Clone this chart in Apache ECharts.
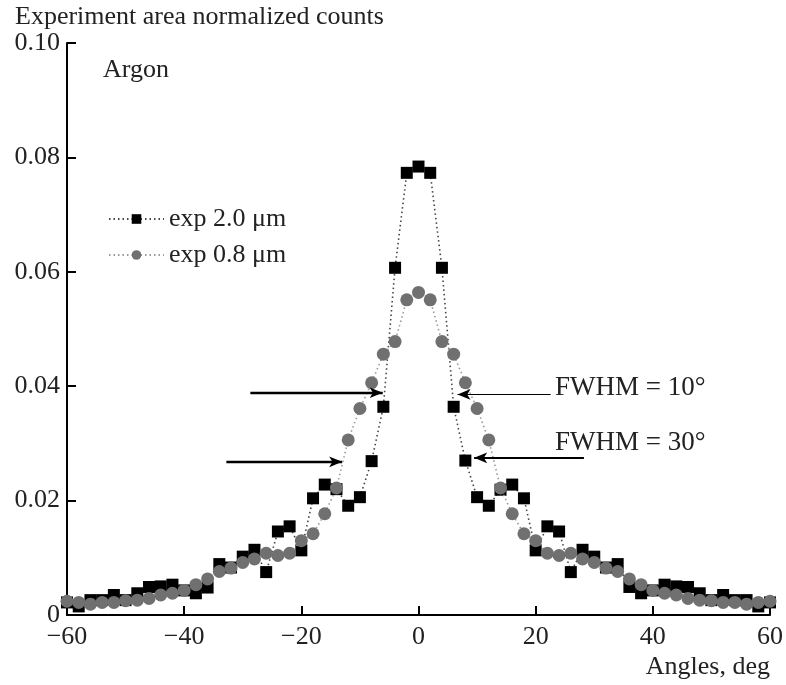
<!DOCTYPE html>
<html>
<head>
<meta charset="utf-8">
<script src="https://cdn.jsdelivr.net/npm/echarts@6/dist/echarts.min.js"></script>
<style>
html,body{margin:0;padding:0;background:#fff;}
#chart{width:786px;height:685px;}
</style>
</head>
<body>
<div id="chart"></div>
<script>
// Angles (deg)
var angles = [-60,-58,-56,-54,-52,-50,-48,-46,-44,-42,-40,-38,-36,-34,-32,-30,-28,-26,-24,-22,-20,-18,-16,-14,-12,-10,-8,-6,-4,-2,0,
  2,4,6,8,10,12,14,16,18,20,22,24,26,28,30,32,34,36,38,40,42,44,46,48,50,52,54,56,58,60];
// exp 2.0 um (squares)
var exp20 = [0.0022,0.0015,0.0026,0.0026,0.0035,0.0026,0.0038,0.0049,0.0050,0.0053,0.0043,0.0038,0.0048,0.0089,0.0083,0.0102,0.0114,0.0075,0.0146,0.0155,0.0113,0.0204,0.0228,0.0220,0.0191,0.0206,0.0269,0.0364,0.0607,0.0773,0.0784,
  0.0773,0.0607,0.0364,0.0270,0.0206,0.0191,0.0219,0.0228,0.0204,0.0113,0.0155,0.0146,0.0075,0.0114,0.0102,0.0083,0.0089,0.0049,0.0038,0.0043,0.0053,0.0050,0.0049,0.0038,0.0026,0.0035,0.0026,0.0026,0.0015,0.0022];
// exp 0.8 um (circles)
var exp08 = [0.0024,0.0022,0.0019,0.0022,0.0022,0.0025,0.0026,0.0029,0.0035,0.0038,0.0043,0.0053,0.0063,0.0076,0.0082,0.0092,0.0098,0.0108,0.0104,0.0108,0.0130,0.0142,0.0177,0.0222,0.0306,0.0361,0.0406,0.0456,0.0478,0.0551,0.0564,
  0.0551,0.0478,0.0456,0.0406,0.0361,0.0306,0.0222,0.0177,0.0142,0.0130,0.0108,0.0104,0.0108,0.0098,0.0092,0.0082,0.0076,0.0063,0.0053,0.0043,0.0038,0.0035,0.0029,0.0026,0.0025,0.0022,0.0022,0.0019,0.0022,0.0024];
// annotation arrows: [x start, x tip, y, width]
var arrowStartX = [-28.7, -32.8, 22.56, 28.24];
var arrowTipX   = [-6.11, -13.03, 6.66, 9.50];
var arrowY      = [0.03885, 0.02678, 0.03857, 0.02748];
var arrowWidth  = [2.3, 2.3, 1.2, 1.8];
var xTicks = {min:-60, max:60, interval:20};
var yTicks = {min:0, max:0.10, interval:0.02};

var FONT = '"Liberation Serif","DejaVu Serif",serif';
function pairs(ys){ return angles.map(function(a,i){ return [a, ys[i]]; }); }

var arrowData = arrowStartX.map(function(s,i){
  return [{coord:[s, arrowY[i]], lineStyle:{width:arrowWidth[i]}}, {coord:[arrowTipX[i], arrowY[i]]}];
});

var chart = echarts.init(document.getElementById('chart'));
chart.setOption({
  animation:false,
  backgroundColor:'#fff',
  grid:{left:67, right:15, top:43, bottom:70, containLabel:false},
  legend:{
    left:108, top:206, orient:'vertical', padding:0,
    itemWidth:55, itemHeight:12, itemGap:10,
    textStyle:{fontFamily:FONT, fontSize:26, color:'#222', lineHeight:26},
    data:['exp 2.0 μm','exp 0.8 μm']
  },
  xAxis:{
    type:'value', min:xTicks.min, max:xTicks.max, interval:xTicks.interval,
    axisLine:{onZero:false, lineStyle:{color:'#000', width:2}},
    axisTick:{inside:true, length:9, lineStyle:{color:'#000', width:2}},
    splitLine:{show:false},
    axisLabel:{fontFamily:FONT, fontSize:26, color:'#222', margin:9,
      formatter:function(v){ return v<0 ? '\u2212'+Math.abs(v) : String(v); }},
    name:'Angles, deg', nameLocation:'end',
    nameTextStyle:{fontFamily:FONT, fontSize:26, color:'#222', align:'right', verticalAlign:'top', padding:[39,0,0,0]},
    nameGap:0
  },
  yAxis:{
    type:'value', min:yTicks.min, max:yTicks.max, interval:yTicks.interval,
    axisLine:{show:true, onZero:false, lineStyle:{color:'#000', width:2}},
    axisTick:{show:true, inside:true, length:9, lineStyle:{color:'#000', width:2}},
    splitLine:{show:false},
    axisLabel:{fontFamily:FONT, fontSize:26, color:'#222', margin:7,
      formatter:function(v){ return v===0 ? '0' : v.toFixed(2); }}
  },
  graphic:[
    {type:'text', left:15, top:4, style:{text:'Experiment area normalized counts', font:'26px '+FONT, fill:'#222'}},
    {type:'text', left:103, top:57, style:{text:'Argon', font:'26px '+FONT, fill:'#222'}},
    {type:'text', left:555, top:374, style:{text:'FWHM = 10°', font:'27px '+FONT, fill:'#222'}},
    {type:'text', left:555, top:429, style:{text:'FWHM = 30°', font:'27px '+FONT, fill:'#222'}}
  ],
  series:[
    {
      name:'exp 2.0 μm', type:'line', data:pairs(exp20),
      symbol:'rect', symbolSize:12, showSymbol:true,
      itemStyle:{color:'#000'},
      lineStyle:{color:'#444', width:1.6, type:[1.5,3]},
      z:2,
      markLine:{
        silent:true, symbol:['none','arrow'], symbolSize:[8,13],
        label:{show:false},
        lineStyle:{color:'#000', type:'solid', width:2},
        data:arrowData
      }
    },
    {
      name:'exp 0.8 μm', type:'line', data:pairs(exp08),
      symbol:'circle', symbolSize:13, showSymbol:true,
      itemStyle:{color:'#707070'},
      lineStyle:{color:'#9a9a9a', width:1.6, type:[1.5,3]},
      z:3
    }
  ]
});
</script>
</body>
</html>
